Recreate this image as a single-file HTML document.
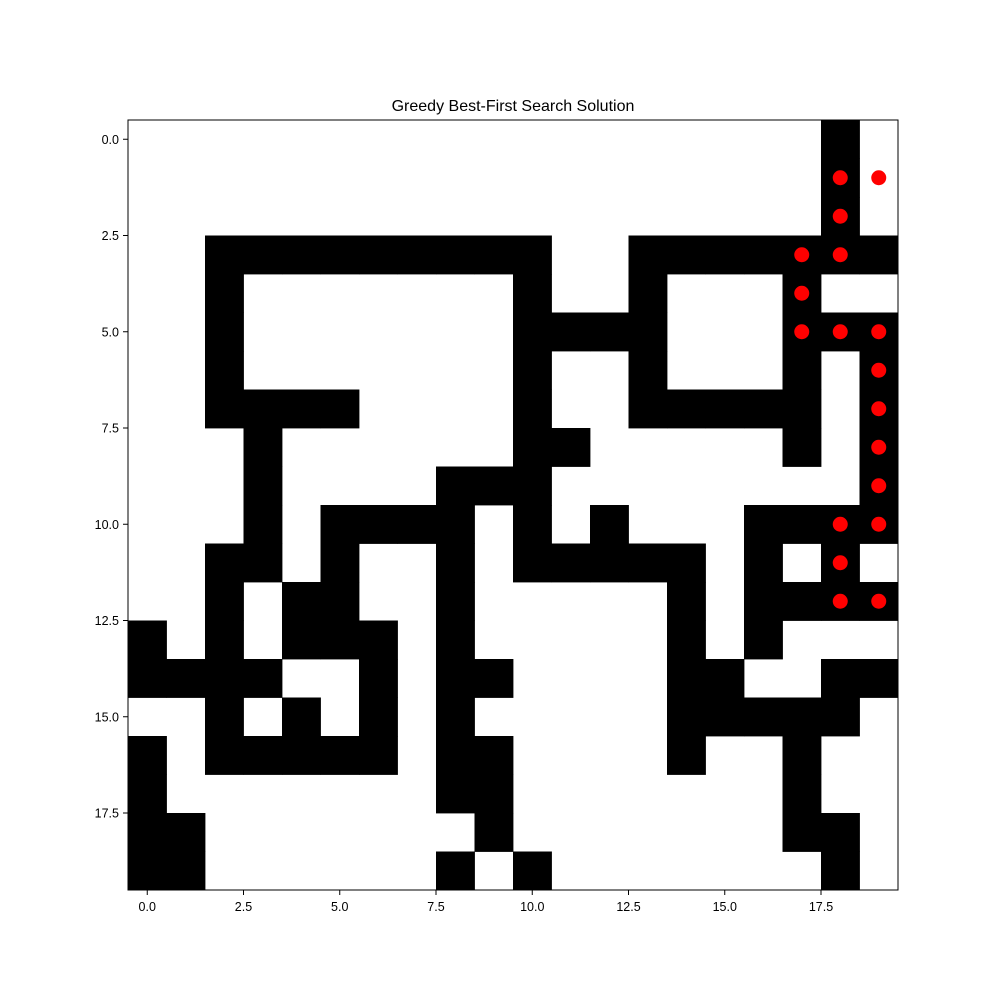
<!DOCTYPE html>
<html><head><meta charset="utf-8"><style>
body{margin:0;background:#fff;font-family:"Liberation Sans","DejaVu Sans",sans-serif}
</style></head><body>
<svg id="chart" width="1000" height="1000" xmlns="http://www.w3.org/2000/svg"></svg>
<script>
const walls = [
"..................#.",
"..................#.",
"..................#.",
"..#########..#######",
"..#.......#..#...#..",
"..#.......####...###",
"..#.......#..#...#.#",
"..####....#..#####.#",
"...#......##.....#.#",
"...#....###........#",
"...#.####.#.#...####",
"..##.#..#.#####.#.#.",
"..#.##..#.....#.####",
"#.#.###.#.....#.#...",
"####..#.##....##..##",
"..#.#.#.#.....#####.",
"#.#####.##....#..#..",
"#.......##.......#..",
"##.......#.......##.",
"##......#.#.......#."
];
const pathX = [19,18,18,18,17,17,17,18,19,19,19,19,19,19,18,18,18,19];
const pathY = [1,1,2,3,3,4,5,5,5,6,7,8,9,10,10,11,12,12];
const xTicks = [0,2.5,5,7.5,10,12.5,15,17.5];
const yTicks = [0,2.5,5,7.5,10,12.5,15,17.5];
const title = "Greedy Best-First Search Solution";

const svg = document.getElementById('chart');
const NS = "http://www.w3.org/2000/svg";
const L=128,T=120,W=770,H=770;
const sx = v => L + (v+0.5)/20*W;
const sy = v => T + (v+0.5)/20*H;
const cw = W/20;
function mk(tag, attrs){const e=document.createElementNS(NS,tag);for(const k in attrs)e.setAttribute(k,attrs[k]);svg.appendChild(e);return e;}

let bg = mk('rect',{x:L,y:T,width:W,height:H,fill:'#fff'});


walls.forEach((row,r)=>{[...row].forEach((ch,c)=>{
  if(ch==='#'){
    const e = mk('rect',{x:sx(c-0.5),y:sy(r-0.5),width:cw+0.4,height:cw+0.4,fill:'#000'});
    
    
  }
});});
pathX.forEach((x,i)=>{
  const e = mk('circle',{cx:sx(x),cy:sy(pathY[i]),r:7.5,fill:'#ff0000'});
  
  
});
let fr = mk('rect',{x:L,y:T,width:W,height:H,fill:'none',stroke:'#000','stroke-width':1});


xTicks.forEach(v=>{
  const x=sx(v);
  const t=mk('line',{x1:x,x2:x,y1:T+H,y2:T+H+5,stroke:'#000'});
  
  
  const l=mk('text',{x:x,y:T+H+21,'text-anchor':'middle','font-size':12.5});
  l.textContent=v.toFixed(1);
  
  
});
yTicks.forEach(v=>{
  const y=sy(v);
  const t=mk('line',{x1:L-5,x2:L,y1:y,y2:y,stroke:'#000'});
  
  
  const l=mk('text',{x:L-9,y:y+4.5,'text-anchor':'end','font-size':12.5});
  l.textContent=v.toFixed(1);
  
  
});
const tt=mk('text',{x:L+W/2,y:T-9,'text-anchor':'middle','font-size':16});
tt.textContent=title;


</script>
</body></html>
